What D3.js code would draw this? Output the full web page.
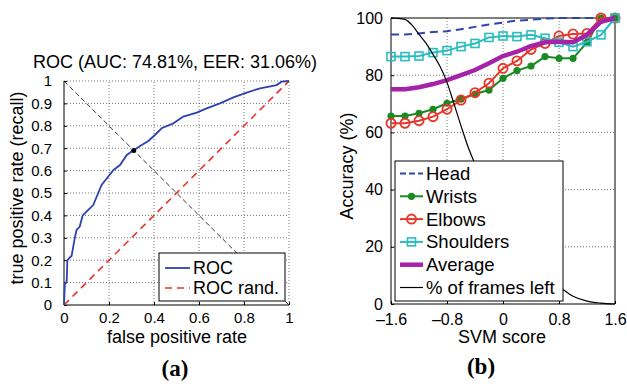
<!DOCTYPE html>
<html>
<head>
<meta charset="utf-8">
<script src="https://cdn.jsdelivr.net/npm/d3@7"></script>
<style>
  body { margin: 0; background: #fff; }
  svg { font-family: "Liberation Sans", Arial, sans-serif; }
  .grid line { stroke: #555; stroke-width: 0.8; stroke-dasharray: 1,2; }
  .axis path, .axis line { stroke: #000; }
</style>
</head>
<body>
<div id="chart"></div>
<script>
// ---- panel (a): ROC ----
var rocFpr = [0, 0.004, 0.012, 0.015, 0.034, 0.049, 0.056, 0.07, 0.083, 0.10, 0.13, 0.148, 0.167, 0.19, 0.22,
              0.249, 0.279, 0.311, 0.338, 0.375, 0.404, 0.434, 0.486, 0.53, 0.59, 0.634, 0.693, 0.753, 0.812,
              0.871, 0.945, 0.967, 1];
var rocTpr = [0, 0.097, 0.104, 0.2, 0.22, 0.305, 0.335, 0.35, 0.40, 0.417, 0.446, 0.49, 0.536, 0.565, 0.603,
              0.625, 0.67, 0.692, 0.71, 0.732, 0.759, 0.789, 0.811, 0.841, 0.859, 0.878, 0.9, 0.927, 0.948,
              0.967, 0.982, 0.997, 1];
var eerPoint = [0.31, 0.69];
var rocTicksX = [0, 0.2, 0.4, 0.6, 0.8, 1];
var rocTicksY = [0, 0.1, 0.2, 0.3, 0.4, 0.5, 0.6, 0.7, 0.8, 0.9, 1];
var rocLegend = ['ROC', 'ROC rand.'];

// ---- panel (b): accuracy vs SVM score ----
var svmScore = [-1.6, -1.4, -1.2, -1.0, -0.8, -0.6, -0.4, -0.2, 0, 0.2, 0.4, 0.6, 0.8, 1.0, 1.2, 1.4, 1.6];
var head      = [94.2, 94.2, 94.6, 95.1, 95.4, 96.1, 96.9, 97.7, 98.4, 99.1, 99.4, 99.8, 100, 100, 100, 100, 100];
var wrists    = [65.7, 65.7, 66.7, 68.1, 70.2, 71.6, 73.4, 74.8, 78.9, 81.6, 83.2, 86.5, 85.9, 85.9, 91.5, 100, 100];
var elbows    = [63.2, 63.2, 64.1, 65.5, 68.1, 71.3, 73.9, 77.2, 82.4, 85.0, 89.0, 91.1, 93.7, 94.4, 94.6, 100, 100];
var shoulders = [86.5, 86.5, 86.7, 87.9, 88.6, 90.0, 91.1, 93.2, 93.7, 93.5, 94.1, 92.9, 91.5, 90.0, 91.7, 94.1, 100];
var average   = [75.1, 75.1, 75.8, 76.9, 78.3, 80.0, 81.8, 84.2, 86.7, 88.2, 90.2, 91.5, 91.7, 91.5, 94.1, 98.7, 100];
var framesScore = [-1.6, -1.5, -1.4, -1.3, -1.2, -1.1, -1.0, -0.9, -0.8, -0.7, -0.6, -0.5, -0.4, -0.3, -0.2, -0.1,
                   0, 0.2, 0.4, 0.6, 0.8, 1.0, 1.2, 1.4, 1.6];
var framesLeft  = [100, 99.9, 99.5, 97.5, 94.3, 91.2, 87.3, 83.1, 77.5, 70.0, 62.3, 55.0, 49.0, 43.5, 38, 33,
                   28, 19.5, 13, 8.3, 6.0, 2.7, 1.0, 0.3, 0];
var svmTicks = [-1.6, -0.8, 0, 0.8, 1.6];
var accTicks = [0, 20, 40, 60, 80, 100];

var w = 627, h = 388;

var svg = d3.select('#chart')
	.append('svg')
		.attr('width', w)
		.attr('height', h);

// ================= (a) =================
var xa = d3.scaleLinear().domain([0, 1]).range([64, 289]);
var ya = d3.scaleLinear().domain([0, 1]).range([305, 81]);

var ga = svg.append('g');

// dotted grid (incl. the top / right edges, box is off)
ga.append('g').attr('class', 'grid')
	.selectAll('line').data(rocTicksX.slice(1)).enter().append('line')
		.attr('x1', d => xa(d)).attr('x2', d => xa(d))
		.attr('y1', ya(0)).attr('y2', ya(1));
ga.append('g').attr('class', 'grid')
	.selectAll('line').data(rocTicksY.slice(1)).enter().append('line')
		.attr('x1', xa(0)).attr('x2', xa(1))
		.attr('y1', d => ya(d)).attr('y2', d => ya(d));

ga.append('g')
	.attr('class', 'axis')
	.attr('transform', 'translate(0,' + ya(0) + ')')
	.call(d3.axisBottom(xa).tickValues(rocTicksX).tickSize(-3).tickPadding(7).tickFormat(d3.format('~g')))
	.call(g => g.selectAll('text').attr('font-size', 15).attr('font-family', null))
	.call(g => g.select('.domain').attr('d', 'M' + xa(0) + ',0H' + xa(1)));

ga.append('g')
	.attr('class', 'axis')
	.attr('transform', 'translate(' + xa(0) + ',0)')
	.call(d3.axisLeft(ya).tickValues(rocTicksY).tickSize(-3).tickPadding(12).tickFormat(d3.format('~g')))
	.call(g => g.selectAll('text').attr('font-size', 15).attr('font-family', null))
	.call(g => g.select('.domain').attr('d', 'M0,' + ya(0) + 'V' + ya(1)));

// EER diagonal
ga.append('line')
	.attr('x1', xa(0)).attr('y1', ya(1)).attr('x2', xa(1)).attr('y2', ya(0))
	.attr('stroke', '#000').attr('stroke-width', 0.8).attr('stroke-dasharray', '5,3');

// random classifier
ga.append('line')
	.attr('x1', xa(0)).attr('y1', ya(0)).attr('x2', xa(1)).attr('y2', ya(1))
	.attr('stroke', '#e8352a').attr('stroke-width', 1.6).attr('stroke-dasharray', '7,5');

var rocLine = d3.line()
	.x((d, i) => xa(rocFpr[i]))
	.y((d, i) => ya(rocTpr[i]));

ga.append('path')
	.attr('d', rocLine(rocFpr))
	.attr('fill', 'none')
	.attr('stroke', '#2d43ad')
	.attr('stroke-width', 1.8);

ga.append('circle')
	.attr('cx', xa(eerPoint[0])).attr('cy', ya(eerPoint[1])).attr('r', 2.5)
	.attr('fill', '#000');

// legend (a)
var la = ga.append('g');
la.append('rect')
	.attr('x', 159).attr('y', 253).attr('width', 126).attr('height', 48)
	.attr('fill', '#fff').attr('stroke', '#000').attr('stroke-width', 1);
la.append('line').attr('x1', 165).attr('x2', 190).attr('y1', 268).attr('y2', 268)
	.attr('stroke', '#2d43ad').attr('stroke-width', 1.8);
la.append('line').attr('x1', 165).attr('x2', 190).attr('y1', 288).attr('y2', 288)
	.attr('stroke', '#e8352a').attr('stroke-width', 1.6).attr('stroke-dasharray', '7,5');
la.selectAll('text').data(rocLegend).enter().append('text')
	.attr('x', 193).attr('y', (d, i) => 274 + i * 20)
	.attr('font-size', 18)
	.text(d => d);

ga.append('text')
	.attr('x', 175).attr('y', 68)
	.attr('text-anchor', 'middle').attr('font-size', 18)
	.text('ROC (AUC: 74.81%, EER: 31.06%)');
ga.append('text')
	.attr('x', 177).attr('y', 343)
	.attr('text-anchor', 'middle').attr('font-size', 18)
	.text('false positive rate');
ga.append('text')
	.attr('transform', 'translate(23,188) rotate(-90)')
	.attr('text-anchor', 'middle').attr('font-size', 18)
	.text('true positive rate (recall)');
ga.append('text')
	.attr('x', 175).attr('y', 376)
	.attr('text-anchor', 'middle').attr('font-size', 23)
	.attr('font-family', 'Liberation Serif, Times New Roman, serif').attr('font-weight', 'bold')
	.text('(a)');

// ================= (b) =================
var xb = d3.scaleLinear().domain([-1.6, 1.6]).range([391, 615]);
var yb = d3.scaleLinear().domain([0, 100]).range([304, 18]);

var gb = svg.append('g');

gb.append('g').attr('class', 'grid')
	.selectAll('line').data(svmTicks.slice(1, -1)).enter().append('line')
		.attr('x1', d => xb(d)).attr('x2', d => xb(d))
		.attr('y1', yb(0)).attr('y2', yb(100));
gb.append('g').attr('class', 'grid')
	.selectAll('line').data(accTicks.slice(1, -1)).enter().append('line')
		.attr('x1', xb(-1.6)).attr('x2', xb(1.6))
		.attr('y1', d => yb(d)).attr('y2', d => yb(d));

var svmFmt = d => d < 0 ? '\u2013' + Math.abs(d) : String(d);

gb.append('g')
	.attr('class', 'axis')
	.attr('transform', 'translate(0,' + yb(0) + ')')
	.call(d3.axisBottom(xb).tickValues(svmTicks).tickSize(-3).tickPadding(10).tickFormat(svmFmt))
	.call(g => g.selectAll('text').attr('font-size', 16).attr('font-family', null))
	.call(g => g.select('.domain').attr('d', 'M' + xb(-1.6) + ',0H' + xb(1.6)));

gb.append('g')
	.attr('class', 'axis')
	.attr('transform', 'translate(' + xb(-1.6) + ',0)')
	.call(d3.axisLeft(yb).tickValues(accTicks).tickSize(-3).tickPadding(8))
	.call(g => g.selectAll('text').attr('font-size', 16).attr('font-family', null))
	.call(g => g.select('.domain').attr('d', 'M0,' + yb(0) + 'V' + yb(100)));

// box top / right
gb.append('path')
	.attr('d', 'M' + xb(-1.6) + ',' + yb(100) + 'H' + xb(1.6) + 'V' + yb(0))
	.attr('fill', 'none').attr('stroke', '#000');

var accLine = function(vals) {
	return d3.line()
		.x((d, i) => xb(svmScore[i]))
		.y(d => yb(d))(vals);
};

var series = [
	{ name: 'Head',      vals: head,      color: '#2f45ad', width: 2,   dash: '8,5', marker: null },
	{ name: 'Wrists',    vals: wrists,    color: '#1b8a22', width: 2,   dash: null,  marker: 'dot' },
	{ name: 'Elbows',    vals: elbows,    color: '#e5382b', width: 2,   dash: null,  marker: 'circle' },
	{ name: 'Shoulders', vals: shoulders, color: '#2bbcbf', width: 2,   dash: null,  marker: 'square' },
	{ name: 'Average',   vals: average,   color: '#a523a8', width: 4.5, dash: null,  marker: null }
];

function drawMarker(sel, type, color) {
	if (type == 'dot') {
		sel.append('circle').attr('r', 3.6).attr('fill', color);
	} else if (type == 'circle') {
		sel.append('circle').attr('r', 4.6).attr('fill', 'none')
			.attr('stroke', color).attr('stroke-width', 1.8);
	} else if (type == 'square') {
		sel.append('rect').attr('x', -4).attr('y', -4).attr('width', 8).attr('height', 8)
			.attr('fill', 'none').attr('stroke', color).attr('stroke-width', 1.6);
	}
}

series.forEach(function(s) {
	gb.append('path')
		.attr('d', accLine(s.vals))
		.attr('fill', 'none')
		.attr('stroke', s.color)
		.attr('stroke-width', s.width)
		.attr('stroke-dasharray', s.dash);
	if (s.marker) {
		gb.selectAll(null)
			.data(s.vals)
			.enter()
			.append('g')
				.attr('transform', (d, i) => 'translate(' + xb(svmScore[i]) + ',' + yb(d) + ')')
				.each(function() { drawMarker(d3.select(this), s.marker, s.color); });
	}
});

var framesLine = d3.line()
	.x((d, i) => xb(framesScore[i]))
	.y(d => yb(d))
	.curve(d3.curveMonotoneX);

gb.append('path')
	.attr('d', framesLine(framesLeft))
	.attr('fill', 'none')
	.attr('stroke', '#000')
	.attr('stroke-width', 1.2);

// legend (b)
var legendItems = series.concat([{ name: '% of frames left', color: '#000', width: 1.2, dash: null, marker: null }]);
var lb = gb.append('g');
lb.append('rect')
	.attr('x', 395).attr('y', 161).attr('width', 168).attr('height', 140)
	.attr('fill', '#fff').attr('stroke', '#000').attr('stroke-width', 1);
var item = lb.selectAll('g.item')
	.data(legendItems)
	.enter()
	.append('g')
		.attr('class', 'item')
		.attr('transform', (d, i) => 'translate(0,' + (173.5 + i * 22.8) + ')');
item.append('line')
	.attr('x1', 400).attr('x2', 423)
	.attr('stroke', d => d.color)
	.attr('stroke-width', d => d.width)
	.attr('stroke-dasharray', d => d.dash ? '6,3' : null);
item.each(function(d) {
	if (d.marker) {
		drawMarker(d3.select(this).append('g').attr('transform', 'translate(411.5,0)'), d.marker, d.color);
	}
});
item.append('text')
	.attr('x', 426).attr('y', 6.5)
	.attr('font-size', 18.5)
	.text(d => d.name);

gb.append('text')
	.attr('x', 502).attr('y', 343)
	.attr('text-anchor', 'middle').attr('font-size', 18)
	.text('SVM score');
gb.append('text')
	.attr('transform', 'translate(353,166) rotate(-90)')
	.attr('text-anchor', 'middle').attr('font-size', 18)
	.text('Accuracy (%)');
gb.append('text')
	.attr('x', 481).attr('y', 374)
	.attr('text-anchor', 'middle').attr('font-size', 23)
	.attr('font-family', 'Liberation Serif, Times New Roman, serif').attr('font-weight', 'bold')
	.text('(b)');
</script>
</body>
</html>
